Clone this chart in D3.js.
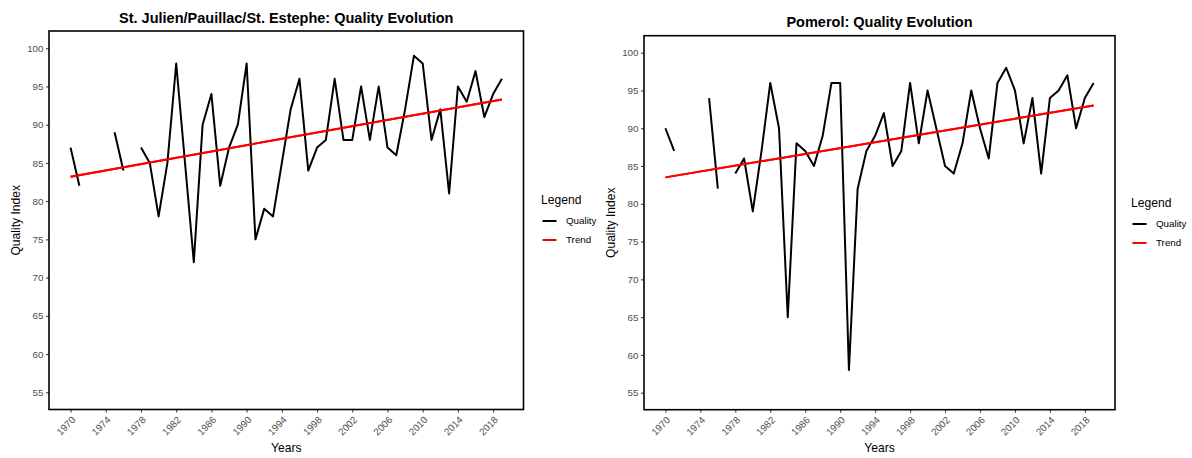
<!DOCTYPE html>
<html>
<head>
<meta charset="utf-8">
<script src="https://cdn.jsdelivr.net/npm/d3@7/dist/d3.min.js"></script>
<style>
  html, body { margin: 0; padding: 0; background: #fff; }
  svg { display: block; font-family: "Liberation Sans", Arial, sans-serif; }
</style>
</head>
<body>
<svg id="chart" width="1192" height="458"></svg>
<script>
// ---------------- DATA ----------------
const years = [1970,1971,1972,1973,1974,1975,1976,1977,1978,1979,
               1980,1981,1982,1983,1984,1985,1986,1987,1988,1989,
               1990,1991,1992,1993,1994,1995,1996,1997,1998,1999,
               2000,2001,2002,2003,2004,2005,2006,2007,2008,2009,
               2010,2011,2012,2013,2014,2015,2016,2017,2018,2019];

const leftQuality = [87,82,null,null,null,89,84,null,87,85,
                     78,85,98,85,72,90,94,82,87,90,
                     98,75,79,78,85,92,96,84,87,88,
                     96,88,88,95,88,95,87,86,92,99,
                     98,88,92,81,95,93,97,91,94,96];

const rightQuality = [90,87,null,null,null,94,82,null,84,86,
                      79,87,96,90,65,88,87,85,89,96,
                      96,58,82,87,89,92,85,87,96,88,
                      95,90,85,84,88,95,90,86,96,98,
                      95,88,94,84,94,95,97,90,94,96];

// trend (linear fit) endpoints
const trendYears = [1970, 2019];
const leftTrend = [83.2, 93.3];
const rightTrend = [83.5, 93.0];

const xTickLabels = [1970,1974,1978,1982,1986,1990,1994,1998,2002,2006,2010,2014,2018];
const yTickLabels = [55,60,65,70,75,80,85,90,95,100];

const titles = ["St. Julien/Pauillac/St. Estephe: Quality Evolution", "Pomerol: Quality Evolution"];
const legendLabels = ["Quality", "Trend"];
const legendColors = ["#000000", "#FF0000"];

// ---------------- DRAW ----------------
const svg = d3.select("#chart");

function drawPanel(opt) {
  const g = svg.append("g");
  const x = d3.scaleLinear().domain([1967.55, 2021.45]).range([opt.left, opt.right]);
  const y = d3.scaleLinear().domain([52.75, 102.25]).range([opt.bottom, opt.top]);

  // title
  g.append("text")
    .attr("x", (opt.left + opt.right) / 2)
    .attr("y", opt.top - 8.5)
    .attr("text-anchor", "middle")
    .attr("font-size", "14.5px")
    .attr("font-weight", "bold")
    .attr("fill", "#000")
    .text(opt.title);

  // y axis
  const yAxis = d3.axisLeft(y).tickValues(yTickLabels).tickSize(3).tickPadding(2.5);
  const ya = g.append("g").attr("transform", `translate(${opt.left},0)`).call(yAxis);
  ya.select(".domain").remove();
  ya.selectAll(".tick line").attr("stroke", "#333").attr("stroke-width", 1);
  ya.selectAll(".tick text").attr("fill", "#4D4D4D").attr("font-size", "9.8px")
    .attr("font-family", "Liberation Sans, Arial, sans-serif");

  // x axis
  const xAxis = d3.axisBottom(x).tickValues(xTickLabels).tickSize(3).tickFormat(d3.format("d"));
  const xa = g.append("g").attr("transform", `translate(0,${opt.bottom})`).call(xAxis);
  xa.select(".domain").remove();
  xa.selectAll(".tick line").attr("stroke", "#333").attr("stroke-width", 1);
  xa.selectAll(".tick text")
    .attr("fill", "#4D4D4D").attr("font-size", "9.8px")
    .attr("font-family", "Liberation Sans, Arial, sans-serif")
    .attr("text-anchor", "end")
    .attr("dy", null)
    .attr("y", null)
    .attr("transform", "translate(5,11) rotate(-45)");

  // panel border
  g.append("rect")
    .attr("x", opt.left).attr("y", opt.top)
    .attr("width", opt.right - opt.left).attr("height", opt.bottom - opt.top)
    .attr("fill", "none").attr("stroke", "#000").attr("stroke-width", 1.6);

  // trend line
  const trendData = trendYears.map((yr, i) => ({ year: yr, v: opt.trend[i] }));
  g.append("path")
    .datum(trendData)
    .attr("fill", "none")
    .attr("stroke", legendColors[1])
    .attr("stroke-width", 2)
    .attr("d", d3.line().x(d => x(d.year)).y(d => y(d.v)));

  // quality line
  const qData = years.map((yr, i) => ({ year: yr, v: opt.values[i] }));
  g.append("path")
    .datum(qData)
    .attr("fill", "none")
    .attr("stroke", legendColors[0])
    .attr("stroke-width", 2)
    .attr("stroke-linejoin", "round")
    .attr("d", d3.line().defined(d => d.v !== null).x(d => x(d.year)).y(d => y(d.v)));

  // re-draw trend on top? In reference red line is over black line
  g.append("path")
    .datum(trendData)
    .attr("fill", "none")
    .attr("stroke", legendColors[1])
    .attr("stroke-width", 2)
    .attr("d", d3.line().x(d => x(d.year)).y(d => y(d.v)));

  // axis titles
  g.append("text")
    .attr("x", (opt.left + opt.right) / 2)
    .attr("y", 452)
    .attr("text-anchor", "middle")
    .attr("font-size", "12.1px")
    .attr("fill", "#000")
    .text("Years");

  g.append("text")
    .attr("transform", `translate(${opt.left - 29},${(opt.top + opt.bottom) / 2}) rotate(-90)`)
    .attr("text-anchor", "middle")
    .attr("font-size", "12.1px")
    .attr("fill", "#000")
    .text("Quality Index");

  // legend
  const lg = g.append("g").attr("transform", `translate(${opt.legendX},${opt.legendY})`);
  lg.append("text").attr("x", 0).attr("y", 4).attr("font-size", "12.1px").attr("fill", "#000").text("Legend");
  legendLabels.forEach((lab, i) => {
    const cy = 21 + i * 19;
    lg.append("line").attr("x1", 1.5).attr("x2", 15.5).attr("y1", cy).attr("y2", cy)
      .attr("stroke", legendColors[i]).attr("stroke-width", 2);
    lg.append("text").attr("x", 25).attr("y", cy).attr("dy", "0.35em")
      .attr("font-size", "9.8px").attr("fill", "#000").text(lab);
  });
}

drawPanel({ left: 49, right: 523.5, top: 31, bottom: 409.5, title: titles[0],
            values: leftQuality, trend: leftTrend, legendX: 541, legendY: 200 });
drawPanel({ left: 644, right: 1115, top: 35.7, bottom: 409.7, title: titles[1],
            values: rightQuality, trend: rightTrend, legendX: 1131, legendY: 203 });
</script>
</body>
</html>
